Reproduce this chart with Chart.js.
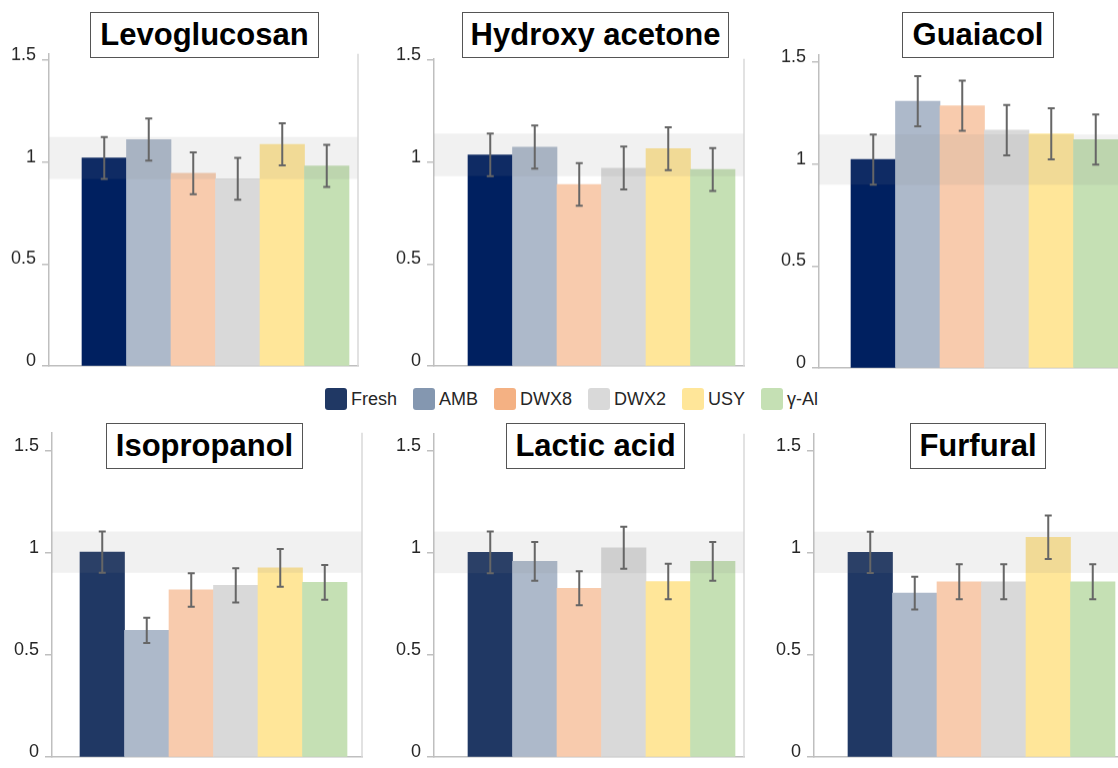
<!DOCTYPE html>
<html>
<head>
<meta charset="utf-8">
<script src="https://cdn.jsdelivr.net/npm/chart.js@4.4.1/dist/chart.umd.min.js"></script>
<style>
  html, body { margin: 0; padding: 0; background: #fff; }
  body { position: relative; width: 1118px; height: 768px; overflow: hidden; font-family: "Liberation Sans", Arial, sans-serif; }
  canvas { position: absolute; }
  .title-box {
    position: absolute; box-sizing: border-box; height: 46px; line-height: 43px;
    border: 1.5px solid #555; background: #fff; text-align: center;
    font-weight: bold; font-size: 31px; color: #000; white-space: nowrap;
  }
  #legend { position: absolute; left: 325px; top: 388px; display: flex; align-items: center; }
  .leg-item { display: flex; align-items: center; margin-right: 16px; font-size: 18px; color: #262626; }
  .leg-box { width: 22px; height: 22px; border-radius: 3px; margin-right: 4px; }
</style>
</head>
<body>
<div id="legend"></div>
<script>
// categorias e compostos
const catalysts = ['Fresh', 'AMB', 'DWX8', 'DWX2', 'USY', 'γ-Al'];
const compounds = ['Levoglucosan', 'Hydroxy acetone', 'Guaiacol', 'Isopropanol', 'Lactic acid', 'Furfural'];

// valores normalizados e barras de erro
const valuesLevoglucosan = [1.02, 1.11, 0.945, 0.918, 1.087, 0.981];
const errorsLevoglucosan = [0.103, 0.103, 0.103, 0.103, 0.103, 0.103];
const valuesHydroxyAcetone = [1.035, 1.073, 0.89, 0.97, 1.065, 0.963];
const errorsHydroxyAcetone = [0.104, 0.105, 0.104, 0.105, 0.105, 0.105];
const valuesGuaiacol = [1.022, 1.308, 1.286, 1.166, 1.148, 1.12];
const errorsGuaiacol = [0.123, 0.123, 0.123, 0.123, 0.125, 0.123];
const valuesIsopropanol = [1.005, 0.622, 0.82, 0.842, 0.928, 0.857];
const errorsIsopropanol = [0.101, 0.062, 0.082, 0.084, 0.093, 0.085];
const valuesLacticAcid = [1.004, 0.96, 0.828, 1.026, 0.861, 0.96];
const errorsLacticAcid = [0.102, 0.095, 0.083, 0.103, 0.087, 0.095];
const valuesFurfural = [1.004, 0.804, 0.86, 0.86, 1.078, 0.86];
const errorsFurfural = [0.101, 0.08, 0.086, 0.086, 0.107, 0.086];

const yTickValues = [0, 0.5, 1, 1.5];
const yTickLabels = ['0', '0.5', '1', '1.5'];

const panelValues = [valuesLevoglucosan, valuesHydroxyAcetone, valuesGuaiacol, valuesIsopropanol, valuesLacticAcid, valuesFurfural];
const panelErrors = [errorsLevoglucosan, errorsHydroxyAcetone, errorsGuaiacol, errorsIsopropanol, errorsLacticAcid, errorsFurfural];

// cores
const barColorsTop = ['#002060', '#adb9ca', '#f8cbad', '#d9d9d9', '#ffe699', '#c5e0b4'];
const barColorsBottom = ['#203864', '#adb9ca', '#f8cbad', '#d9d9d9', '#ffe699', '#c5e0b4'];
const legendColors = ['#203864', '#8497b0', '#f4b183', '#d9d9d9', '#ffe699', '#c5e0b4'];

// posição de cada painel na página (px)
const panelLayout = [
  { axisX: 49,  borderX: 358,  barsLeft: 82,  barsRight: 349,  y0: 369, ymax: 1.53,  title: [90, 12, 229] },
  { axisX: 434, borderX: 744,  barsLeft: 468, barsRight: 735,  y0: 369, ymax: 1.505, title: [462, 12, 267] },
  { axisX: 819, borderX: 1127, barsLeft: 851, barsRight: 1118, y0: 371, ymax: 1.535, title: [902, 12, 152] },
  { axisX: 52,  borderX: 362,  barsLeft: 80,  barsRight: 347,  y0: 760, ymax: 1.59,  title: [106, 423, 197] },
  { axisX: 434, borderX: 744,  barsLeft: 468, barsRight: 735,  y0: 760, ymax: 1.585, title: [506, 423, 179] },
  { axisX: 814, borderX: 1124, barsLeft: 848, barsRight: 1115, y0: 760, ymax: 1.585, title: [910, 423, 136] }
];
const UNIT = 207.8;   // px por unidade do eixo y
const YW = 50, PT = 14, PB = 14, PR = 3;

Chart.defaults.font.family = '"Liberation Sans", Arial, sans-serif';

// faixa cinza (Fresh ± erro), barras de erro e borda direita
function makeOverlay(values, errors) {
  return {
    id: 'overlay',
    afterDatasetsDraw(chart) {
      const { ctx, chartArea: a, scales: { x, y } } = chart;
      ctx.save();
      const bTop = y.getPixelForValue(values[0] + errors[0]);
      const bBot = y.getPixelForValue(values[0] - errors[0]);
      ctx.fillStyle = 'rgba(128,128,128,0.115)';
      ctx.fillRect(a.left, bTop, a.right - a.left, bBot - bTop);

      ctx.strokeStyle = '#666';
      ctx.lineWidth = 2;
      values.forEach((v, i) => {
        const px = x.getPixelForValue(i);
        const hi = y.getPixelForValue(v + errors[i]);
        const lo = y.getPixelForValue(v - errors[i]);
        ctx.beginPath();
        ctx.moveTo(px, hi); ctx.lineTo(px, lo);
        ctx.moveTo(px - 3.5, hi); ctx.lineTo(px + 3.5, hi);
        ctx.moveTo(px - 3.5, lo); ctx.lineTo(px + 3.5, lo);
        ctx.stroke();
      });

      ctx.strokeStyle = '#d9d9d9';
      ctx.lineWidth = 1.5;
      ctx.beginPath();
      ctx.moveTo(a.right, a.top); ctx.lineTo(a.right, a.bottom);
      ctx.stroke();
      ctx.restore();
    }
  };
}

function buildPanel(idx) {
  const L = panelLayout[idx];
  const values = panelValues[idx];
  const errors = panelErrors[idx];
  const plotTop = L.y0 - L.ymax * UNIT;
  const barW = (L.barsRight - L.barsLeft) / values.length;
  const xMin = -0.5 - (L.barsLeft - L.axisX) / barW;
  const xMax = values.length - 0.5 + (L.borderX - L.barsRight) / barW;

  const canvas = document.createElement('canvas');
  const w = YW + (L.borderX - L.axisX) + PR;
  const h = PT + (L.y0 - plotTop) + PB;
  canvas.width = w; canvas.height = h;
  canvas.style.left = (L.axisX - YW) + 'px';
  canvas.style.top = (plotTop - PT) + 'px';
  canvas.style.width = w + 'px'; canvas.style.height = h + 'px';
  document.body.appendChild(canvas);

  new Chart(canvas.getContext('2d'), {
    type: 'bar',
    data: {
      datasets: [{
        data: values.map((v, i) => ({ x: i, y: v })),
        backgroundColor: idx < 3 ? barColorsTop : barColorsBottom,
        borderWidth: 0,
        barPercentage: 1,
        categoryPercentage: 1
      }]
    },
    options: {
      responsive: false,
      animation: false,
      events: [],
      layout: { padding: { top: PT, bottom: PB, left: 0, right: PR } },
      plugins: { legend: { display: false }, tooltip: { enabled: false } },
      scales: {
        x: {
          type: 'linear', min: xMin, max: xMax, offset: false,
          afterBuildTicks: (s) => { s.ticks = values.map((v, i) => ({ value: i })); },
          afterFit: (s) => { s.height = 0; },
          ticks: { display: false },
          grid: { display: false, offset: false },
          border: { display: true, color: '#bfbfbf', width: 1.5 }
        },
        y: {
          min: 0, max: L.ymax,
          afterBuildTicks: (s) => { s.ticks = yTickValues.map(v => ({ value: v })); },
          afterFit: (s) => { s.width = YW; },
          ticks: {
            padding: 6, labelOffset: -5, color: '#262626',
            font: { size: 18 },
            callback: (v) => yTickLabels[yTickValues.indexOf(v)]
          },
          grid: { drawOnChartArea: false, drawTicks: true, tickLength: 7, color: '#bfbfbf', lineWidth: 1.5 },
          border: { display: true, color: '#bfbfbf', width: 1.5 }
        }
      }
    },
    plugins: [makeOverlay(values, errors)]
  });

  const t = document.createElement('div');
  t.className = 'title-box';
  t.textContent = compounds[idx];
  t.style.left = L.title[0] + 'px';
  t.style.top = L.title[1] + 'px';
  t.style.width = L.title[2] + 'px';
  document.body.appendChild(t);
}

function buildLegend() {
  const leg = document.getElementById('legend');
  catalysts.forEach((name, i) => {
    const item = document.createElement('div');
    item.className = 'leg-item';
    const box = document.createElement('div');
    box.className = 'leg-box';
    box.style.background = legendColors[i];
    const label = document.createElement('span');
    label.textContent = name;
    item.appendChild(box); item.appendChild(label);
    leg.appendChild(item);
  });
}

compounds.forEach((c, i) => buildPanel(i));
buildLegend();
</script>
</body>
</html>
